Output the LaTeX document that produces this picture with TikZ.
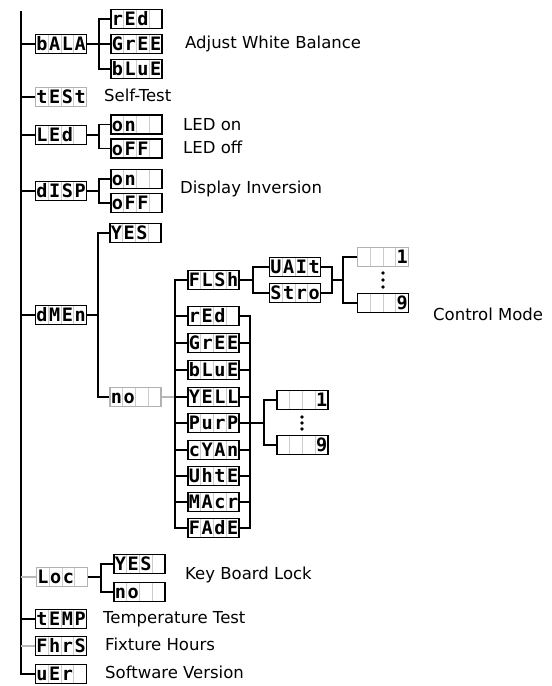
\documentclass[tikz,border=0pt]{standalone}
\usepackage{fontspec}
\setmainfont{DejaVu Sans}
\newfontfamily\lcdfont{DejaVu Sans Mono}
\usetikzlibrary{calc}
\newcommand\seg[4]{\makebox[12.75pt]{#1}\makebox[12.75pt]{#2}\makebox[12.75pt]{#3}\makebox[12.75pt]{#4}}

\begin{document}
\begin{tikzpicture}[x=1pt,y=-1pt,
    lcd/.style={draw, line width=1.2pt, minimum width=51pt, minimum height=19pt, inner sep=0pt,
      text height=13pt, text depth=0pt, font=\lcdfont\bfseries\fontsize{18.5}{18}\selectfont,
      path picture={\foreach \k in {1,2,3}
        \draw[gray!40, line width=0.9pt]
          ($(path picture bounding box.north west)!\k/4!(path picture bounding box.north east)$) --
          ($(path picture bounding box.south west)!\k/4!(path picture bounding box.south east)$);}},
    dimlcd/.style={lcd, draw=gray!60},
    note/.style={anchor=west, inner sep=0pt, text height=12pt, text depth=3pt, font=\fontsize{16.5}{18}\selectfont},
    wire/.style={line width=1.2pt},
    dimwire/.style={wire, draw=gray!55}]
    \useasboundingbox (0,0) rectangle (552,686);

    % first level
    \node[lcd] (bala) at (61,44) {\seg bALA};
    \node[dimlcd] (test) at (61,97) {\seg tESt};
    \node[lcd] (led) at (61,135) {\seg LEd{}};
    \node[lcd] (disp) at (61,191) {\seg dISP};
    \node[lcd] (dmen) at (61,315) {\seg dMEn};
    \node[dimlcd] (loc) at (62,577) {\seg Loc{}};
    \node[lcd] (temp) at (61,619) {\seg tEMP};
    \node[lcd] (fhrs) at (61,646) {\seg FhrS};
    \node[lcd] (uer) at (61,674) {\seg uEr{}};

    \coordinate (top) at (21,11);
    \draw[wire] (top) |- (uer.west);
    \foreach \n in {bala,test,led,disp,dmen,temp}
        \draw[wire] (\n.west) -- (\n.west -| top);
    \foreach \n in {loc,fhrs}
        \draw[dimwire] (\n.west) -- (\n.west -| top);

    % white balance
    \node[lcd] (bred) at (136.5,19) {\seg rEd{}};
    \node[lcd] (bgree) at (136.5,44) {\seg GrEE};
    \node[lcd] (bblue) at (136.5,69) {\seg bLuE};
    \coordinate (jb) at (99,44);
    \draw[wire] (bala.east) -- (bgree.west);
    \draw[wire] (bred.west) -| (jb) |- (bblue.west);

    % led and display
    \node[lcd] (ledon) at (136.5,124.5) {\seg on{}{}};
    \node[lcd] (ledoff) at (136.5,148.5) {\seg oFF{}};
    \coordinate (jl) at (99,135);
    \draw[wire] (led.east) -- (jl);
    \draw[wire] (ledon.west) -| (jl) |- (ledoff.west);

    \node[lcd] (dispon) at (136.5,179) {\seg on{}{}};
    \node[lcd] (dispoff) at (136.5,203) {\seg oFF{}};
    \coordinate (jd) at (99,191);
    \draw[wire] (disp.east) -- (jd);
    \draw[wire] (dispon.west) -| (jd) |- (dispoff.west);

    % dmx mode
    \node[lcd] (dyes) at (135.5,233) {\seg YES{}};
    \node[dimlcd] (dno) at (135.5,397) {\seg no{}{}};
    \coordinate (jm) at (98,315);
    \draw[wire] (dmen.east) -- (jm);
    \draw[wire] (dyes.west) -| (jm) |- (dno.west);

    \node[lcd] (flsh) at (213.5,280) {\seg FLSh};
    \node[lcd] (mred) at (213.5,316) {\seg rEd{}};
    \node[lcd] (mgree) at (213.5,343) {\seg GrEE};
    \node[lcd] (mblue) at (213.5,370) {\seg bLuE};
    \node[lcd] (yell) at (213.5,397) {\seg YELL};
    \node[lcd] (purp) at (213.5,423) {\seg PurP};
    \node[lcd] (cyan) at (213.5,450) {\seg cYAn};
    \node[lcd] (whte) at (213.5,476) {\seg UhtE};
    \node[lcd] (macr) at (213.5,502) {\seg MAcr};
    \node[lcd] (fade) at (213.5,528) {\seg FAdE};
    \coordinate (railL) at (175,280);
    \coordinate (railR) at (250,316);
    \draw[dimwire] (dno.east) -- (dno.east -| railL);
    \draw[wire] (flsh.west) -- (railL) -- (fade.west -| railL) -- (fade.west);
    \draw[wire] (mred.east) -- (railR) -- (fade.east -| railR) -- (fade.east);
    \foreach \n in {mred,mgree,mblue,yell,purp,cyan,whte,macr} {
        \draw[wire] (\n.west) -- (\n.west -| railL);
        \draw[wire] (\n.east) -- (\n.east -| railR);
    }

    % flash
    \node[lcd] (wait) at (295,267) {\seg UAIt};
    \node[lcd] (stro) at (295,293) {\seg Stro};
    \coordinate (jf) at (253,280);
    \coordinate (jw) at (332,280);
    \coordinate (jn) at (343,280);
    \draw[wire] (flsh.east) -- (jf);
    \draw[wire] (wait.west) -| (jf) |- (stro.west);
    \draw[wire] (wait.east) -| (jw) |- (stro.east);
    \draw[wire] (jw) -- (jn);
    \node[dimlcd] (fone) at (383,257) {\seg {}{}{}1};
    \node[lcd] (fnine) at (383,303) {\seg {}{}{}9};
    \draw[wire] (fone.west) -| (jn) |- (fnine.west);
    \foreach \y in {273,280,287}
        \fill (383,\y) circle (1.8);

    % colour step
    \node[lcd] (pone) at (302.5,400) {\seg {}{}{}1};
    \node[lcd] (pnine) at (302.5,445) {\seg {}{}{}9};
    \coordinate (jp) at (264,423);
    \draw[wire] (purp.east) -- (jp);
    \draw[wire] (pone.west) -| (jp) |- (pnine.west);
    \foreach \y in {417,423,429}
        \fill (302,\y) circle (1.8);

    % key lock
    \node[lcd] (lyes) at (139.5,564) {\seg YES{}};
    \node[lcd] (lno) at (139.5,592) {\seg no{}{}};
    \coordinate (jk) at (101,577);
    \draw[wire] (loc.east) -- (jk);
    \draw[wire] (lyes.west) -| (jk) |- (lno.west);

    % labels
    \node[note] (tbal) at (185,44) {Adjust White Balance};
    \node[note] (ttest) at (104,97) {Self-Test};
    \node[note] (tledon) at (183,126) {LED on};
    \node[note] (tledoff) at (183,149) {LED off};
    \node[note] (tdisp) at (180,189) {Display Inversion};
    \node[note] (tmode) at (433,316) {Control Mode};
    \node[note] (tlock) at (185,575) {Key Board Lock};
    \node[note] (ttemp) at (103,619) {Temperature Test};
    \node[note] (tfhrs) at (105,646) {Fixture Hours};
    \node[note] (tver) at (105,674) {Software Version};
\end{tikzpicture}
\end{document}
